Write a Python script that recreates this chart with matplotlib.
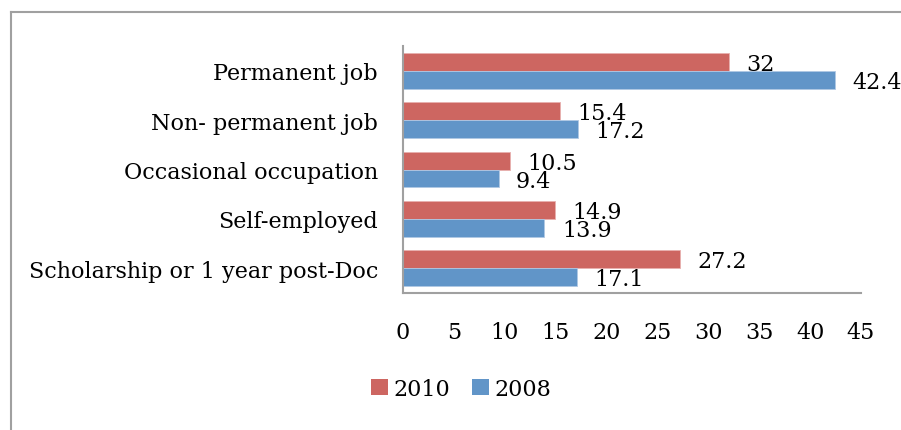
import numpy as np
import matplotlib
matplotlib.use("Agg")
import matplotlib.pyplot as plt
from matplotlib.patches import Patch
from matplotlib.lines import Line2D

# ---- data ------------------------------------------------------------------
categories = ["Permanent job", "Non- permanent job", "Occasional occupation",
              "Self-employed", "Scholarship or 1 year post-Doc"]
vals_2010 = [32, 15.4, 10.5, 14.9, 27.2]
vals_2008 = [42.4, 17.2, 9.4, 13.9, 17.1]
series_names = ["2010", "2008"]
xticks = [0, 5, 10, 15, 20, 25, 30, 35, 40, 45]

RED = "#CD6661"
BLUE = "#6195C8"
AXIS = "#A0A0A0"
FS = 16
plt.rcParams.update({"font.family": ["DejaVu Serif"], "font.size": FS})

fig = plt.figure(figsize=(9.01, 4.31), dpi=100)
ax = fig.add_axes([403 / 901, 1 - 294 / 431, 458 / 901, 247 / 431])

y = np.arange(len(categories))
h = 0.364
b1 = ax.barh(y - h / 2, vals_2010, height=h, color=RED, edgecolor="#E8B0AE", lw=0.6)
b2 = ax.barh(y + h / 2, vals_2008, height=h, color=BLUE, edgecolor="#B0C8E4", lw=0.6)

for bars, vals in ((b1, vals_2010), (b2, vals_2008)):
    for r, v in zip(bars, vals):
        ax.annotate(f"{v:g}", (r.get_width(), r.get_y() + r.get_height() / 2),
                    xytext=(12.5, -1.5), textcoords="offset points",
                    ha="left", va="center", fontsize=FS)

ax.set_xlim(0, 45)
ax.set_ylim(len(categories) - 0.5, -0.5)
ax.set_xticks(xticks)
ax.set_yticks(y)
ax.set_yticklabels(categories)
ax.tick_params(axis="x", length=0, pad=20)
ax.tick_params(axis="y", length=0, pad=18)
for s in ("top", "right"):
    ax.spines[s].set_visible(False)
for s in ("left", "bottom"):
    ax.spines[s].set_color(AXIS)
    ax.spines[s].set_linewidth(1.5)

handles = [Patch(facecolor=RED), Patch(facecolor=BLUE)]
fig.legend(handles, series_names, loc="center left", bbox_to_anchor=(351 / 901, 1 - 390 / 431),
           ncol=2, frameon=False, handlelength=0.75, handleheight=0.75,
           handletextpad=0.25, columnspacing=1.0, fontsize=FS)

# outer chart border (left and top edges visible)
fig.add_artist(Line2D([10.5 / 901, 10.5 / 901], [0, 1 - 12.5 / 431], transform=fig.transFigure,
                      color=AXIS, lw=1.5))
fig.add_artist(Line2D([10.5 / 901, 1], [1 - 12.5 / 431, 1 - 12.5 / 431], transform=fig.transFigure,
                      color=AXIS, lw=1.5))

fig.savefig("out.png", dpi=100)
